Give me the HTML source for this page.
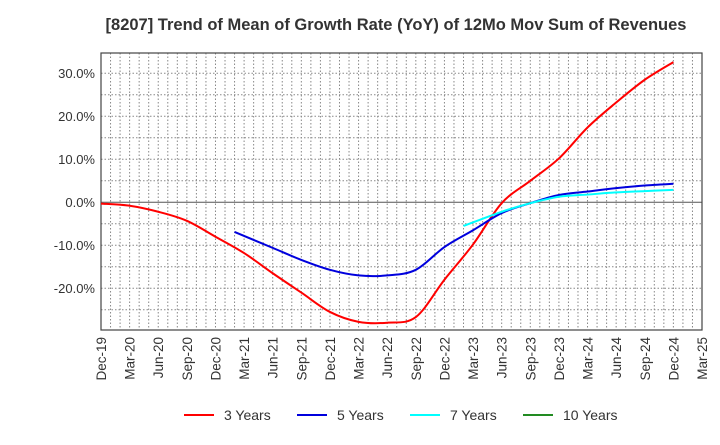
<!DOCTYPE html>
<html><head><meta charset="utf-8"><style>
body{margin:0;background:#fff;font-family:"Liberation Sans",Arial,sans-serif}
</style></head><body>
<svg id="c" width="720" height="440" xmlns="http://www.w3.org/2000/svg">
<text x="396" y="30" text-anchor="middle" font-size="16.5" font-weight="bold" fill="#333">[8207]  Trend of Mean of Growth Rate (YoY) of 12Mo Mov Sum of Revenues</text>
<g id="grid"></g><g id="axes"></g><g id="series"></g><g id="legend"></g>
</svg>
<script>
const xLabels=["Dec-19","Mar-20","Jun-20","Sep-20","Dec-20","Mar-21","Jun-21","Sep-21","Dec-21","Mar-22","Jun-22","Sep-22","Dec-22","Mar-23","Jun-23","Sep-23","Dec-23","Mar-24","Jun-24","Sep-24","Dec-24","Mar-25"];
const yTicks=[-20,-10,0,10,20,30];
const m3=[0,3,6,9,12,15,18,21,24,27,30,33,36,39,42,45,48,51,54,57,60];
const v3=[-0.3,-0.8,-2.2,-4.3,-8,-11.8,-16.5,-21,-25.5,-27.8,-28,-26.7,-18,-9.8,-0.2,5,10.2,17.4,23.2,28.5,32.6];
const m5=[14,18,21,24,27,30,33,36,39,42,45,48,51,54,57,60];
const v5=[-6.9,-10.6,-13.4,-15.7,-17,-17,-15.7,-10.4,-6.5,-2.5,-0.2,1.7,2.5,3.3,3.9,4.3];
const m7=[38,42,45,48,51,54,57,60];
const v7=[-5.5,-2.2,-0.2,1.3,1.8,2.3,2.6,2.9];
const m10=[];const v10=[];
const L=101,R=702,T=53,B=330;
const X=m=>L+(R-L)*m/63;
const Y=v=>202.3-v*4.3;
const NS="http://www.w3.org/2000/svg";
function mk(p,t,a){const e=document.createElementNS(NS,t);for(const k in a)e.setAttribute(k,a[k]);p.appendChild(e);return e;}
const grid=document.getElementById('grid'),axes=document.getElementById('axes'),ser=document.getElementById('series'),leg=document.getElementById('legend');
for(let m=1;m<63;m++){const l=mk(grid,'line',{x1:X(m),x2:X(m),y1:T,y2:B,stroke:'#888','stroke-dasharray':'1.5,2','stroke-width':1});

}
for(let v=-25;v<=35;v+=5){const y=Y(v);if(y<T||y>B)continue;const l=mk(grid,'line',{x1:L,x2:R,y1:y,y2:y,stroke:v===0?'#555':'#888','stroke-dasharray':v===0?'none':'1.5,2','stroke-width':1});

}
const fr=mk(axes,'rect',{x:L,y:T,width:R-L,height:B-T,fill:'none',stroke:'#444','stroke-width':1.2});


yTicks.forEach(v=>{const t=mk(axes,'text',{x:L-6,y:Y(v)+4.5,'text-anchor':'end','font-size':13,fill:'#333'});t.textContent=v.toFixed(1)+'%';

});
xLabels.forEach((s,i)=>{const x=X(i*3);const t=mk(axes,'text',{x:0,y:0,transform:`translate(${x+5},337) rotate(-90)`,'text-anchor':'end','font-size':13.5,fill:'#333'});t.textContent=s;

});
function path(ms,vs){const p=ms.map((m,i)=>[X(m),Y(vs[i])]);if(p.length<2)return '';let d=`M${p[0][0]},${p[0][1]}`;
for(let i=0;i<p.length-1;i++){const p0=p[i-1]||p[i],p1=p[i],p2=p[i+1],p3=p[i+2]||p2;
d+=` C${p1[0]+(p2[0]-p0[0])/6},${p1[1]+(p2[1]-p0[1])/6} ${p2[0]-(p3[0]-p1[0])/6},${p2[1]-(p3[1]-p1[1])/6} ${p2[0]},${p2[1]}`;}return d;}
const S=[[m3,v3,'#ff0000','3 Years','series-3-years'],[m5,v5,'#0000dd','5 Years','series-5-years'],[m7,v7,'#00ffff','7 Years','series-7-years'],[m10,v10,'#228b22','10 Years','series-10-years']];
S.forEach(s=>{if(s[0].length>1){const e=mk(ser,'path',{d:path(s[0],s[1]),fill:'none',stroke:s[2],'stroke-width':2});

}});
const lx=[184,297,410,523];
S.forEach((s,i)=>{const g=mk(leg,'g',{});


mk(g,'line',{x1:lx[i],x2:lx[i]+30,y1:415,y2:415,stroke:s[2],'stroke-width':2});
const t=mk(g,'text',{x:lx[i]+40,y:420,'font-size':14,fill:'#333'});t.textContent=s[3];});
</script>
</body></html>
